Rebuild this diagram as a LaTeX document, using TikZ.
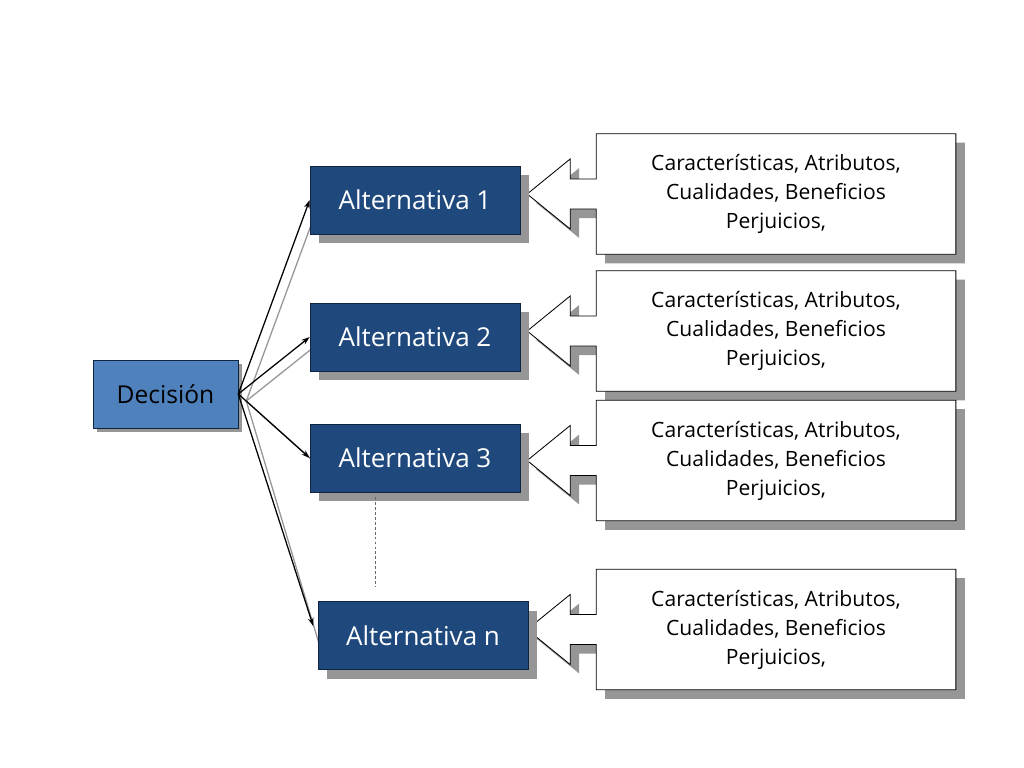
\documentclass[tikz,border=0pt]{standalone}
\usepackage{fontspec}
\setmainfont{Open Sans}
\usetikzlibrary{arrows.meta,positioning,shadows,backgrounds}
\definecolor{altblue}{RGB}{31,73,125}
\definecolor{decblue}{RGB}{79,129,189}
\definecolor{boxline}{RGB}{16,37,63}
\definecolor{shadegray}{RGB}{150,150,150}

\begin{document}
\begin{tikzpicture}[x=0.025cm, y=-0.025cm, >={Stealth[length=6pt,width=4pt]},
  altbox/.style={draw=boxline, fill=altblue, text=white, minimum width=5.25cm, minimum height=1.7cm,
    font=\fontsize{18.5}{22}\selectfont,
    drop shadow={shadow xshift=0.225cm, shadow yshift=-0.225cm, fill=shadegray, opacity=1}},
  decbox/.style={draw=boxline, fill=decblue, text=black, minimum width=3.625cm, minimum height=1.7cm,
    font=\fontsize{17.5}{21}\selectfont,
    drop shadow={shadow xshift=0.1cm, shadow yshift=-0.1cm, fill=shadegray, opacity=1}},
  calltext/.style={minimum width=8.975cm, minimum height=3cm, align=center,
    font=\fontsize{15}{20.6}\selectfont},
  calloutline/.style={draw=black, fill=white, line width=0.6pt,
    drop shadow={shadow xshift=0.225cm, shadow yshift=-0.225cm, fill=shadegray, opacity=1}},
  arrline/.style={->, line width=0.9pt},
  arrshade/.style={draw=shadegray, line width=0.9pt}]

  \useasboundingbox (0,0) rectangle (1024,768);

  % left side
  \node[decbox] (dec) at (165.5,394) {Decisión};
  \node[altbox] (a1) at (415,200) {Alternativa 1};
  \node[altbox] (a2) at (415,337) {Alternativa 2};
  \node[altbox] (a3) at (415,458) {Alternativa 3};
  \node[altbox] (an) at (423,635.5) {Alternativa n};

  % callouts
  \node[calltext] (c1) at (776,194) {Características, Atributos,\\Cualidades, Beneficios\\Perjuicios,};
  \node[calltext] (c2) at (776,331) {Características, Atributos,\\Cualidades, Beneficios\\Perjuicios,};
  \node[calltext] (c3) at (776,460.5) {Características, Atributos,\\Cualidades, Beneficios\\Perjuicios,};
  \node[calltext] (c4) at (776,629.5) {Características, Atributos,\\Cualidades, Beneficios\\Perjuicios,};

  \begin{scope}[on background layer]
    \fill[white] (0,0) rectangle (1024,768);
    \foreach \c in {c1,c2,c3,c4}
      \draw[calloutline] (\c.north west) -- (\c.north east) -- (\c.south east) -- (\c.south west)
        -- ([shift={(0,15)}]\c.west) -- ([shift={(-26,15)}]\c.west) -- ([shift={(-26,35)}]\c.west)
        -- ([shift={(-69,0)}]\c.west) -- ([shift={(-26,-35)}]\c.west) -- ([shift={(-26,-15)}]\c.west)
        -- ([shift={(0,-15)}]\c.west) -- cycle;
    \draw[arrshade] ([shift={(8,7)}]dec.east) -- ([shift={(8,7)}]a1.west);
    \draw[arrshade] ([shift={(8,7)}]dec.east) -- ([shift={(8,7)}]a2.west);
    \draw[arrshade] ([shift={(8,7)}]dec.east) -- ([shift={(8,7)}]a3.west);
    \draw[arrshade] ([shift={(8,7)}]dec.east) -- ([shift={(1,7)}]an.west);
  \end{scope}

  \draw[arrline] (dec.east) -- (a1.west);
  \draw[arrline] (dec.east) -- (a2.west);
  \draw[arrline] (dec.east) -- (a3.west);
  \draw[arrline, shorten >=7pt] (dec.east) -- ([xshift=-1pt]an.west);

  \draw[shadegray!70!black, dashed, dash pattern=on 2pt off 1.5pt, line width=0.6pt]
    ([shift={(-40,5)}]a3.south) -- ([shift={(-40,94)}]a3.south);
\end{tikzpicture}
\end{document}
